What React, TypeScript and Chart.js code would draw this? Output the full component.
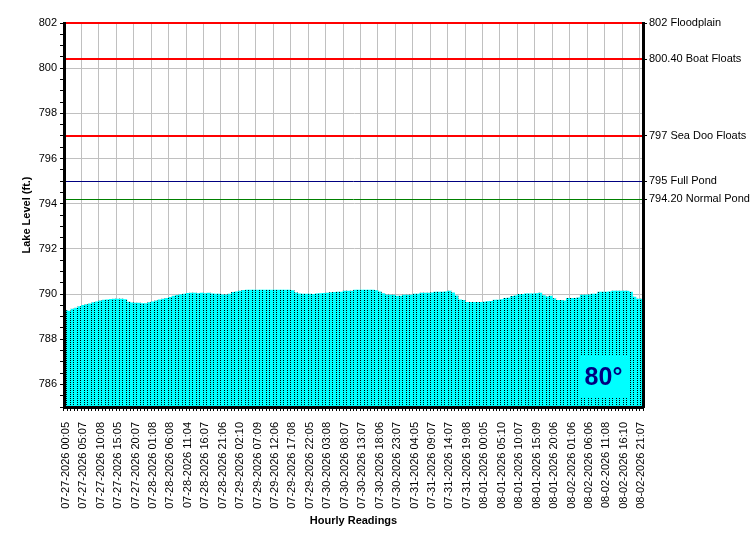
import React, { useEffect, useRef } from 'react';
import { Chart, registerables } from 'chart.js';

Chart.register(...registerables);

// visible tick labels, one every 5 hourly readings
const tickLabels = [
  '07-27-2026 00:05', '07-27-2026 05:07', '07-27-2026 10:08', '07-27-2026 15:05', '07-27-2026 20:07',
  '07-28-2026 01:08', '07-28-2026 06:08', '07-28-2026 11:04', '07-28-2026 16:07', '07-28-2026 21:06',
  '07-29-2026 02:10', '07-29-2026 07:09', '07-29-2026 12:06', '07-29-2026 17:08', '07-29-2026 22:05',
  '07-30-2026 03:08', '07-30-2026 08:07', '07-30-2026 13:07', '07-30-2026 18:06', '07-30-2026 23:07',
  '07-31-2026 04:05', '07-31-2026 09:07', '07-31-2026 14:07', '07-31-2026 19:08',
  '08-01-2026 00:05', '08-01-2026 05:10', '08-01-2026 10:07', '08-01-2026 15:09', '08-01-2026 20:06',
  '08-02-2026 01:06', '08-02-2026 06:06', '08-02-2026 11:08', '08-02-2026 16:10', '08-02-2026 21:07',
];

// hourly lake level readings (ft.)
const lakeLevels = [
  789.27, 789.25, 789.33, 789.38, 789.45, 789.50, 789.53, 789.57, 789.62, 789.66,
  789.70, 789.73, 789.74, 789.77, 789.78, 789.78, 789.78, 789.76, 789.65, 789.61,
  789.60, 789.60, 789.58, 789.58, 789.62, 789.66, 789.70, 789.74, 789.78, 789.81,
  789.86, 789.91, 789.94, 789.98, 790.00, 790.03, 790.04, 790.04, 790.02, 790.04,
  790.02, 790.04, 790.01, 790.00, 790.00, 789.97, 789.97, 790.00, 790.08, 790.10,
  790.13, 790.16, 790.18, 790.18, 790.18, 790.18, 790.18, 790.18, 790.18, 790.18,
  790.18, 790.18, 790.18, 790.18, 790.18, 790.15, 790.05, 790.01, 790.00, 790.00,
  790.00, 789.99, 790.01, 790.02, 790.03, 790.04, 790.06, 790.08, 790.09, 790.09,
  790.13, 790.13, 790.13, 790.18, 790.18, 790.18, 790.18, 790.18, 790.18, 790.15,
  790.10, 790.02, 789.96, 789.96, 789.96, 789.91, 789.91, 789.95, 789.95, 789.96,
  790.00, 790.00, 790.04, 790.04, 790.04, 790.05, 790.09, 790.09, 790.09, 790.10,
  790.13, 790.05, 789.92, 789.75, 789.72, 789.63, 789.63, 789.63, 789.63, 789.63,
  789.64, 789.67, 789.68, 789.73, 789.73, 789.76, 789.81, 789.82, 789.90, 789.92,
  789.99, 789.99, 790.01, 790.01, 790.01, 790.02, 790.04, 789.93, 789.88, 789.91,
  789.80, 789.72, 789.72, 789.70, 789.81, 789.81, 789.81, 789.83, 789.96, 789.96,
  789.97, 790.00, 790.00, 790.09, 790.09, 790.09, 790.10, 790.13, 790.13, 790.13,
  790.13, 790.13, 790.09, 789.87, 789.78, 789.78,
];

const thresholdValues = [802, 800.4, 797, 795, 794.2];
const thresholdNames = ['802 Floodplain', '800.40 Boat Floats', '797 Sea Doo Floats', '795 Full Pond', '794.20 Normal Pond'];
const thresholdColors = ['#ff0000', '#ff0000', '#ff0000', '#000080', '#008000'];
const thresholdWidths = [2, 2, 2, 1, 1];

const temperature = '80°';
const yMin = 785;
const yMax = 802;

const categories = lakeLevels.map((_, i) => (i % 5 === 0 ? tickLabels[i / 5] : ''));

const FONT = '"Liberation Sans", Arial, sans-serif';

function makeDotPattern(ctx: CanvasRenderingContext2D) {
  const c = document.createElement('canvas');
  c.width = 7;
  c.height = 2;
  const p = c.getContext('2d')!;
  p.fillStyle = '#00ffff';
  p.fillRect(0, 0, 7, 2);
  p.fillStyle = '#000000';
  p.fillRect(0, 0, 1, 1);
  p.fillRect(3, 0, 1, 1);
  return ctx.createPattern(c, 'repeat');
}

const overlayPlugin = {
  id: 'overlay',
  afterDatasetsDraw(chart: any) {
    const { ctx, chartArea, scales } = chart;
    ctx.save();
    thresholdValues.forEach((v, i) => {
      const w = thresholdWidths[i];
      let y = Math.round(scales.y.getPixelForValue(v));
      if (w % 2 === 1) y += 0.5;
      ctx.strokeStyle = thresholdColors[i];
      ctx.lineWidth = w;
      ctx.beginPath();
      ctx.moveTo(chartArea.left, y);
      ctx.lineTo(chartArea.right, y);
      ctx.stroke();
    });
    // temperature box
    const bx = chartArea.right - 63;
    const by = chartArea.bottom - 52;
    ctx.fillStyle = '#00ffff';
    ctx.fillRect(bx, by, 47, 43);
    ctx.fillStyle = '#000080';
    ctx.font = 'bold 25px ' + FONT;
    ctx.textAlign = 'center';
    ctx.textBaseline = 'middle';
    ctx.fillText(temperature, bx + 23.5, by + 23);
    ctx.restore();
  },
};

const App: React.FC = () => {
  const canvasRef = useRef<HTMLCanvasElement | null>(null);
  const chartRef = useRef<Chart | null>(null);

  useEffect(() => {
    if (!canvasRef.current) return;
    const ctx = canvasRef.current.getContext('2d');
    if (!ctx) return;
    if (chartRef.current) chartRef.current.destroy();

    Chart.defaults.font.family = FONT;
    Chart.defaults.color = '#000';

    chartRef.current = new Chart(ctx, {
      type: 'bar',
      data: {
        labels: categories,
        datasets: [
          {
            data: lakeLevels,
            backgroundColor: makeDotPattern(ctx) as any,
            borderWidth: 0,
            barPercentage: 1,
            categoryPercentage: 1,
          },
        ],
      },
      options: {
        responsive: false,
        animation: false,
        layout: { padding: { top: 23, left: 0, right: 0, bottom: 0 } },
        plugins: {
          legend: { display: false },
          tooltip: { enabled: false },
        },
        scales: {
          x: {
            offset: true,
            grid: {
              offset: true,
              color: (c: any) => (c.index !== undefined && c.index % 5 === 0 ? '#c0c0c0' : 'rgba(0,0,0,0)'),
              tickColor: '#000',
              tickLength: 4,
            },
            border: { color: '#000', width: 3, z: 1 },
            ticks: {
              autoSkip: false,
              maxRotation: 90,
              minRotation: 90,
              padding: 11,
              color: '#000',
              font: { size: 11 },
              callback: (_v: any, i: number) => categories[i],
            },
            title: {
              display: true,
              text: 'Hourly Readings',
              color: '#000',
              font: { size: 11, weight: 'bold' },
              padding: { top: 0, bottom: 22 },
            },
            afterFit: (s: any) => {
              s.height = 143;
            },
          },
          y: {
            min: yMin,
            max: yMax,
            grid: {
              color: (c: any) => (c.tick && c.tick.value % 2 === 0 ? '#c0c0c0' : 'rgba(0,0,0,0)'),
              tickColor: '#000',
              tickLength: 4,
            },
            border: { color: '#000', width: 3, z: 1 },
            ticks: {
              stepSize: 0.5,
              autoSkip: false,
              padding: 3,
              color: '#000',
              font: { size: 11 },
              callback: (v: any) => (v % 2 === 0 ? String(v) : ''),
            },
            title: {
              display: true,
              text: 'Lake Level (ft.)',
              color: '#000',
              font: { size: 11, weight: 'bold' },
              padding: { top: 20, bottom: 0 },
            },
            afterFit: (s: any) => {
              s.width = 64;
            },
          },
          y2: {
            position: 'right',
            min: yMin,
            max: yMax,
            afterBuildTicks: (s: any) => {
              s.ticks = thresholdValues.map((value) => ({ value }));
            },
            grid: { drawOnChartArea: false, tickColor: '#000', tickLength: 4 },
            border: { color: '#000', width: 3, z: 1 },
            ticks: {
              autoSkip: false,
              padding: 2,
              color: '#000',
              font: { size: 11 },
              callback: (_v: any, i: number) => thresholdNames[i],
            },
            afterFit: (s: any) => {
              s.width = 107;
            },
          },
        },
      } as any,
      plugins: [overlayPlugin],
    });

    return () => {
      if (chartRef.current) {
        chartRef.current.destroy();
        chartRef.current = null;
      }
    };
  }, []);

  return (
    <div style={{ position: 'fixed', left: 0, top: 0, width: 750, height: 550, background: '#fff' }}>
      <canvas ref={canvasRef} width={750} height={550} />
    </div>
  );
};

export default App;
